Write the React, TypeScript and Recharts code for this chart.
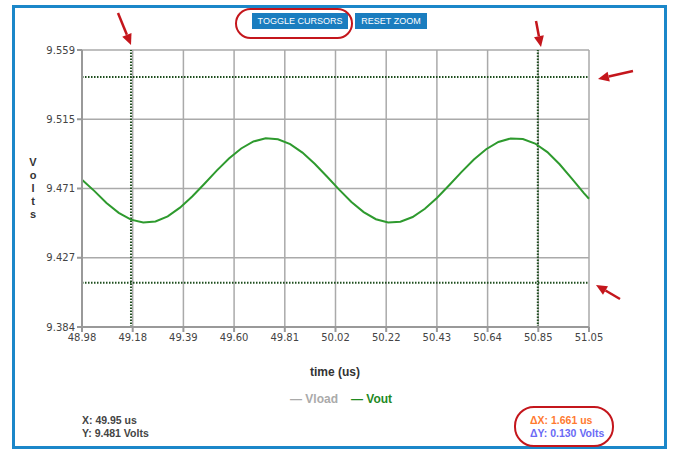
import { LineChart, Line, XAxis, YAxis, CartesianGrid, ReferenceLine } from 'recharts';

// time in us, Vout in volts
const times = [
  48.98, 49.03, 49.08, 49.13, 49.18, 49.23, 49.28, 49.33, 49.38, 49.43, 49.48,
  49.53, 49.58, 49.63, 49.68, 49.73, 49.78, 49.83, 49.88, 49.93, 49.98, 50.03,
  50.08, 50.13, 50.18, 50.23, 50.28, 50.33, 50.38, 50.43, 50.48, 50.53, 50.58,
  50.63, 50.68, 50.73, 50.78, 50.83, 50.88, 50.93, 50.98, 51.03, 51.05,
];
const vout = [
  9.477, 9.47, 9.4623, 9.4561, 9.4518, 9.45, 9.4507, 9.4539, 9.4594, 9.4665, 9.4745,
  9.4828, 9.4905, 9.4968, 9.5012, 9.5032, 9.5026, 9.4995, 9.4942, 9.4871, 9.4791, 9.4708,
  9.463, 9.4566, 9.4521, 9.45, 9.4505, 9.4535, 9.4587, 9.4657, 9.4737, 9.482, 9.4898,
  9.4963, 9.5009, 9.5031, 9.5028, 9.4999, 9.4945, 9.4868, 9.4778, 9.4684, 9.465,
];

const xDomain = [48.98, 51.05];
const xTickLabels = ['48.98', '49.18', '49.39', '49.60', '49.81', '50.02', '50.22', '50.43', '50.64', '50.85', '51.05'];
const yDomain = [9.384, 9.559];
const yTickLabels = ['9.384', '9.427', '9.471', '9.515', '9.559'];

const cursorX = [49.18, 50.841];
const cursorY = [9.412, 9.542];

const data = times.map((t, i) => ({ t, vout: vout[i] }));

const xTicks = xTickLabels.map((_, i) => xDomain[0] + ((xDomain[1] - xDomain[0]) * i) / (xTickLabels.length - 1));
const yTicks = yTickLabels.map((_, i) => yDomain[0] + ((yDomain[1] - yDomain[0]) * i) / (yTickLabels.length - 1));

const tickStyle = { fontFamily: 'DejaVu Sans', fontSize: 10, fill: '#444' };
const textFont = "'Liberation Sans', Arial, sans-serif";

const arrows = [
  [118, 13, 131, 45],
  [536, 21, 541, 47],
  [633, 71, 598, 79],
  [620, 299, 596, 285],
];

function Arrow({ a }: { a: number[] }) {
  const [x1, y1, x2, y2] = a;
  const ang = Math.atan2(y2 - y1, x2 - x1);
  const L = 11;
  const W = 5;
  const bx = x2 - L * Math.cos(ang);
  const by = y2 - L * Math.sin(ang);
  const px = -Math.sin(ang) * W;
  const py = Math.cos(ang) * W;
  return (
    <g>
      <line x1={x1} y1={y1} x2={bx} y2={by} stroke="#c4161c" strokeWidth={2.5} />
      <polygon points={`${x2},${y2} ${bx + px},${by + py} ${bx - px},${by - py}`} fill="#c4161c" />
    </g>
  );
}

export default function App() {
  return (
    <div style={{ position: 'absolute', left: 0, top: 0, width: 675, height: 458, background: '#fff', overflow: 'hidden' }}>
      <div style={{ position: 'absolute', left: 12, top: 5, width: 649, height: 438, border: '3px solid #1b87c9' }} />

      <LineChart
        width={675}
        height={458}
        data={data}
        margin={{ top: 50, right: 86, bottom: 101, left: 22 }}
        style={{ position: 'absolute', left: 0, top: 0 }}
      >
        <CartesianGrid stroke="#aaa" strokeWidth={1.5} horizontalValues={yTicks} verticalValues={xTicks} />
        <XAxis
          dataKey="t"
          type="number"
          domain={xDomain}
          ticks={xTicks}
          tickFormatter={(_v: number, i: number) => xTickLabels[i]}
          stroke="#999"
          strokeWidth={2}
          tickSize={5}
          tick={tickStyle}
          height={30}
          interval={0}
        />
        <YAxis
          type="number"
          domain={yDomain}
          ticks={yTicks}
          tickFormatter={(_v: number, i: number) => yTickLabels[i]}
          stroke="#999"
          strokeWidth={2}
          tickSize={5}
          tick={tickStyle}
          width={60}
          interval={0}
        />
        {cursorX.map((x) => (
          <ReferenceLine key={'x' + x} x={x} stroke="#1d4d1d" strokeWidth={2} strokeDasharray="1.5 1.5" />
        ))}
        {cursorY.map((y) => (
          <ReferenceLine key={'y' + y} y={y} stroke="#1d4d1d" strokeWidth={2} strokeDasharray="1.5 1.5" />
        ))}
        <Line
          type="linear"
          dataKey="vout"
          stroke="#2e9a2e"
          strokeWidth={2}
          dot={false}
          isAnimationActive={false}
        />
      </LineChart>

      {/* buttons */}
      <div style={{ position: 'absolute', left: 252, top: 13, width: 96, height: 16, background: '#1a7dbf', color: '#fff', fontFamily: textFont, fontSize: 9, lineHeight: '16px', textAlign: 'center' }}>
        TOGGLE CURSORS
      </div>
      <div style={{ position: 'absolute', left: 355, top: 13, width: 72, height: 16, background: '#1a7dbf', color: '#fff', fontFamily: textFont, fontSize: 9, lineHeight: '16px', textAlign: 'center' }}>
        RESET ZOOM
      </div>
      <div style={{ position: 'absolute', left: 235, top: 8, width: 114, height: 27, border: '2px solid #c4161c', borderRadius: 16 }} />

      {/* axis titles */}
      <div style={{ position: 'absolute', left: 27, top: 156, width: 12, fontFamily: textFont, fontSize: 11, fontWeight: 'bold', color: '#333', textAlign: 'center', lineHeight: '13px' }}>
        {'Volts'.split('').map((c, i) => (
          <div key={i}>{c}</div>
        ))}
      </div>
      <div style={{ position: 'absolute', left: 285, top: 365, width: 100, textAlign: 'center', fontFamily: textFont, fontSize: 12, fontWeight: 'bold', color: '#333' }}>
        time (us)
      </div>

      {/* legend */}
      <div style={{ position: 'absolute', left: 290, top: 392, fontFamily: textFont, fontSize: 12, fontWeight: 'bold', whiteSpace: 'nowrap' }}>
        <span style={{ color: '#aaa' }}>— Vload</span>
        <span style={{ color: '#1f8a1f', marginLeft: 13 }}>— Vout</span>
      </div>

      {/* readouts */}
      <div style={{ position: 'absolute', left: 82, top: 414, fontFamily: textFont, fontSize: 10.5, fontWeight: 'bold', color: '#444', lineHeight: '13px' }}>
        <div>X: 49.95 us</div>
        <div>Y: 9.481 Volts</div>
      </div>
      <div style={{ position: 'absolute', left: 530, top: 414, fontFamily: textFont, fontSize: 10.5, fontWeight: 'bold', lineHeight: '13px' }}>
        <div style={{ color: '#ff7a30' }}>ΔX: 1.661 us</div>
        <div style={{ color: '#6a6af5' }}>ΔY: 0.130 Volts</div>
      </div>
      <div style={{ position: 'absolute', left: 514, top: 406, width: 96, height: 37, border: '2px solid #c4161c', borderRadius: 20 }} />

      <svg width={675} height={458} style={{ position: 'absolute', left: 0, top: 0, pointerEvents: 'none' }}>
        {arrows.map((a, i) => (
          <Arrow key={i} a={a} />
        ))}
      </svg>
    </div>
  );
}
